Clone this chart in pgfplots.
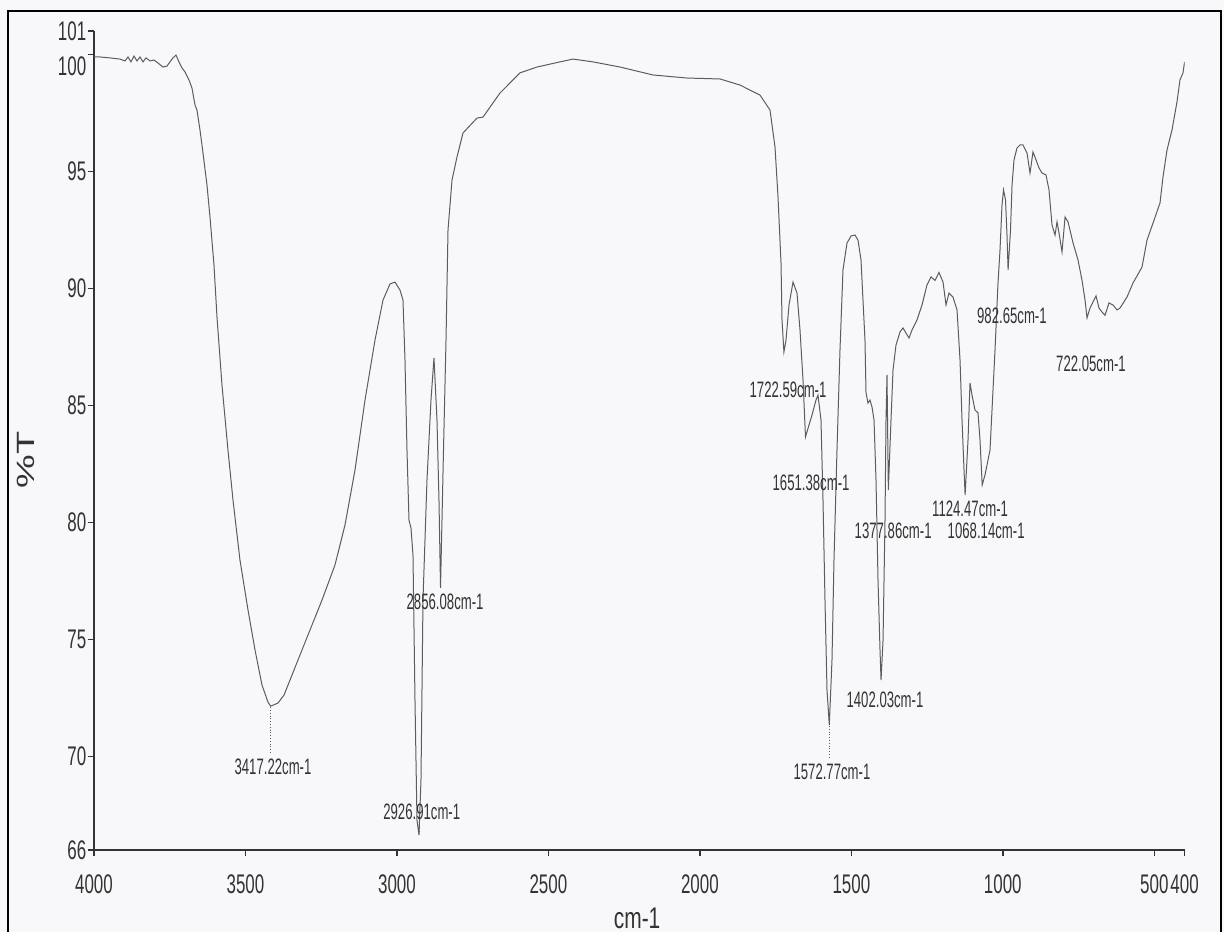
\documentclass[border=0pt]{standalone}
\usepackage{graphicx}
\usepackage{pgfplots}
\usepackage{pgfplotstable}
\pgfplotsset{compat=1.18}
\usepackage{fontspec}
\setmainfont{Liberation Sans}

\definecolor{ink}{HTML}{333333}
\definecolor{trace}{HTML}{5C5C5C}
\definecolor{paper}{HTML}{F8F8FA}

% the scan is squeezed sideways, so is its lettering
\newcommand{\sx}[1]{\scalebox{0.63}[1]{#1}}
\newcommand{\pk}[1]{\scalebox{0.59}[1]{#1}}
\tikzset{peak/.style={font=\fontsize{11.2}{11.2}\selectfont, text=ink, inner sep=0pt}}

% FTIR trace, wavenumber (cm-1) and %T
\pgfplotstableread{
wn T
4000 99.89
3980.2 99.89
3947.2 99.85
3914.2 99.80
3897.7 99.72
3887.8 99.89
3877.9 99.68
3868.0 99.93
3858.1 99.72
3848.2 99.89
3838.3 99.68
3828.3 99.85
3815.1 99.72
3801.9 99.76
3788.7 99.63
3772.2 99.46
3759.0 99.50
3749.1 99.68
3739.2 99.85
3729.3 99.97
3719.4 99.68
3709.5 99.42
3699.6 99.25
3686.4 98.91
3676.5 98.56
3666.6 97.84
3660.0 97.62
3650.1 96.77
3640.2 95.79
3627.0 94.42
3617.1 93.05
3603.9 91.00
3594.0 88.78
3577.5 85.87
3557.7 83.09
3541.2 80.96
3518.1 78.39
3491.6 76.26
3468.5 74.55
3445.4 73.05
3425.6 72.32
3417.2 72.15
3409.1 72.19
3392.6 72.28
3372.8 72.62
3353.0 73.26
3326.6 74.12
3287.0 75.40
3247.4 76.68
3204.5 78.18
3171.4 79.89
3138.4 82.24
3105.4 85.23
3072.4 87.79
3046.0 89.50
3022.9 90.19
3006.4 90.27
2989.9 89.93
2980.0 89.50
2973.4 86.94
2966.8 83.09
2960.2 80.10
2953.6 79.76
2947.0 78.61
2940.4 72.41
2933.8 67.28
2927.2 66.64
2920.6 68.99
2914.0 76.68
2900.8 81.81
2887.6 85.23
2877.7 87.03
2867.8 84.38
2861.2 80.96
2856.1 77.20
2846.3 83.09
2838.0 87.79
2831.4 92.50
2818.2 94.63
2801.7 95.62
2781.9 96.64
2735.7 97.28
2715.9 97.32
2659.8 98.35
2593.8 99.21
2537.7 99.46
2461.7 99.68
2418.8 99.80
2352.8 99.68
2263.7 99.46
2154.7 99.12
2042.5 98.99
1933.6 98.95
1867.6 98.69
1801.5 98.26
1768.5 97.62
1752.0 96.04
1742.1 93.91
1732.2 91.09
1728.9 88.65
1722.6 87.28
1715.7 87.79
1705.8 89.29
1692.6 90.27
1679.4 89.80
1669.5 88.22
1659.6 86.09
1651.4 83.65
1639.8 84.16
1629.9 84.59
1616.7 85.23
1610.1 85.44
1600.2 84.38
1593.6 80.96
1587.0 76.68
1580.4 72.84
1572.8 71.34
1563.9 74.12
1557.3 78.39
1547.4 83.09
1537.5 87.37
1527.6 90.79
1514.3 91.94
1501.1 92.24
1487.9 92.28
1478.0 92.06
1468.1 91.21
1461.6 89.50
1455.0 87.79
1451.6 85.53
1445.0 85.10
1438.4 85.23
1431.8 84.93
1425.2 84.38
1418.6 81.81
1412.0 77.54
1405.4 74.55
1402.0 73.26
1395.4 74.97
1388.9 80.10
1385.6 84.38
1382.3 86.30
1377.9 81.38
1369.1 84.38
1362.5 86.51
1352.6 87.58
1339.4 88.14
1329.5 88.31
1319.6 88.09
1309.7 87.88
1299.8 88.22
1283.3 88.65
1266.8 89.29
1250.3 90.15
1237.0 90.49
1223.9 90.34
1210.7 90.68
1197.4 90.27
1187.5 89.29
1177.6 89.80
1164.5 89.63
1151.2 89.08
1141.3 86.94
1134.7 84.38
1128.1 82.24
1124.5 81.17
1114.9 83.52
1108.3 85.96
1101.7 85.44
1091.8 84.80
1081.9 84.68
1075.3 83.52
1068.1 81.60
1058.8 82.03
1042.3 83.09
1025.8 87.37
1015.9 90.23
1009.3 91.64
1002.7 93.56
997.7 94.21
991.1 93.78
986.2 92.28
982.65 90.79
974.6 92.50
969.6 94.42
963.1 95.49
953.2 96.00
943.3 96.13
933.3 96.13
920.2 95.79
910.3 94.93
900.4 95.83
890.4 95.49
880.6 95.15
870.7 94.93
857.5 94.85
847.6 94.21
837.6 92.71
827.7 92.28
821.1 92.84
814.5 92.37
804.6 91.56
794.6 93.05
784.7 92.84
768.2 91.94
751.7 91.21
738.6 90.34
728.6 89.50
722.05 88.74
712.2 89.16
702.3 89.42
692.4 89.68
682.5 89.16
672.6 88.99
662.7 88.85
649.5 89.38
636.3 89.29
623.1 89.08
613.2 89.16
590.1 89.63
570.3 90.23
540.6 90.91
524.1 92.06
504.3 92.79
481.2 93.65
471.3 94.76
458.1 95.91
441.6 96.77
425.1 97.97
415.2 98.91
405.3 99.21
400 99.68
}\spectrum

\begin{document}
\begin{tikzpicture}
\fill[paper] (0,0) rectangle (612bp,466bp);
% border of the scanned page
\draw[black, line width=1bp] (4bp,0) -- (4bp,460.5bp) -- (610.5bp,460.5bp) -- (610.5bp,0);

\begin{axis}[
  at={(47bp,41bp)}, anchor=south west,
  scale only axis, width=545.3bp, height=409.5bp,
  x dir=reverse, xmin=400, xmax=4000, ymin=66, ymax=101,
  axis x line*=bottom, axis y line*=left,
  axis line style={ink, line width=0.9bp},
  tick style={ink, line width=0.8bp},
  tick align=outside, major tick length=3.2bp,
  xtick={4000,3500,3000,2500,2000,1500,1000,500,400},
  xticklabels={\sx{4000},\sx{3500},\sx{3000},\sx{2500},\sx{2000},\sx{1500},\sx{1000},\sx{500},\sx{400}},
  ytick={66,70,75,80,85,90,95,100,101},
  yticklabels={\sx{66},\sx{70},\sx{75},\sx{80},\sx{85},\sx{90},\sx{95},
    \raisebox{-6bp}[\height][\depth]{\sx{100}},\sx{101}},
  tick label style={font=\fontsize{13.5}{13.5}\selectfont, text=ink},
  xticklabel style={inner sep=0.5bp, yshift=-8.5bp},
  yticklabel style={inner sep=0.5bp},
  xlabel={\scalebox{0.7}[1]{cm-1}},
  xlabel style={at={(axis description cs:0.498,-0.083)}, anchor=center,
    font=\fontsize{15}{15}\selectfont, text=ink},
  ylabel={\scalebox{1}[0.66]{\%T}},
  ylabel style={at={(axis description cs:-0.0623,0.476)}, anchor=center,
    font=\fontsize{19}{19}\selectfont, text=ink},
]
\addplot[trace, line width=0.5bp] table[x=wn, y=T] {\spectrum};

% dotted leaders from the band minima to their labels
\draw[trace, line width=0.4bp, densely dotted] (axis cs:3417.2,72.1) -- (axis cs:3417.2,70.1);
\draw[trace, line width=0.4bp, densely dotted] (axis cs:2926.9,67.4) -- (axis cs:2926.9,66.7);
\draw[trace, line width=0.4bp, densely dotted] (axis cs:1572.8,71.3) -- (axis cs:1572.8,69.9);

\node[peak] at (axis cs:3409,69.55) {\pk{3417.22cm-1}};
\node[peak] at (axis cs:2918,67.62) {\pk{2926.91cm-1}};
\node[peak] at (axis cs:2841,76.60) {\pk{2856.08cm-1}};
\node[peak] at (axis cs:1709,85.66) {\pk{1722.59cm-1}};
\node[peak] at (axis cs:1633,81.68) {\pk{1651.38cm-1}};
\node[peak] at (axis cs:1564,69.33) {\pk{1572.77cm-1}};
\node[peak] at (axis cs:1389,72.41) {\pk{1402.03cm-1}};
\node[peak] at (axis cs:1362,79.63) {\pk{1377.86cm-1}};
\node[peak] at (axis cs:1108,80.57) {\pk{1124.47cm-1}};
\node[peak] at (axis cs:1055,79.63) {\pk{1068.14cm-1}};
\node[peak] at (axis cs:970,88.82) {\pk{982.65cm-1}};
\node[peak] at (axis cs:709,86.77) {\pk{722.05cm-1}};
\end{axis}

\pgfresetboundingbox
\useasboundingbox (0,0) rectangle (612bp,466bp);
\end{tikzpicture}
\end{document}
